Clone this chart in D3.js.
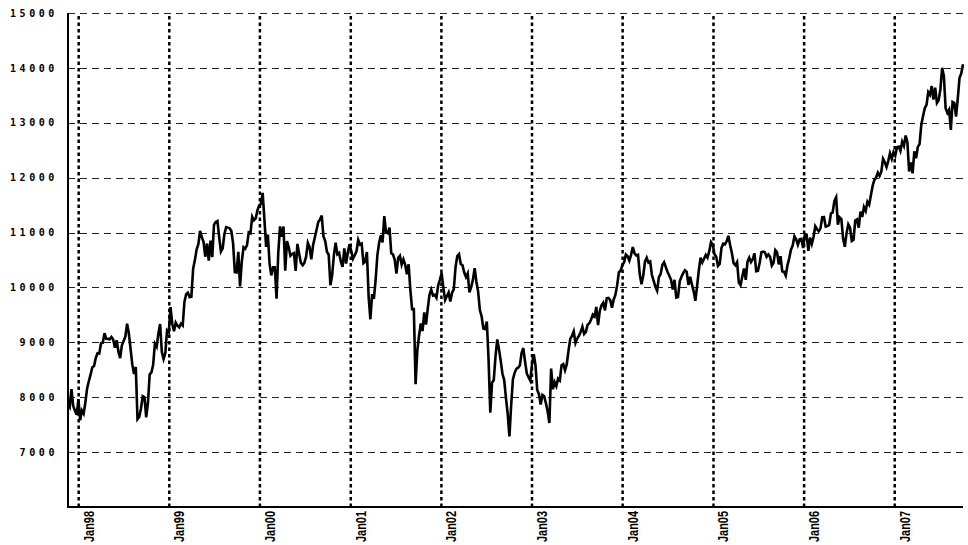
<!DOCTYPE html>
<html>
<head>
    <title>Weekly index 1997-2007</title>
    <script src="https://d3js.org/d3.v7.min.js"></script>
    <style>
        body { margin: 0; background: #fff; }
    </style>
</head>
<body>
    <svg width="968" height="545"></svg>
    <script>
        // First weekly close (Friday) and one value per week after it
        const startDate = new Date(1997, 10, 21);

        const values1997 = [7881, 7823, 8149, 7839, 7756, 7679];
        const values1998 = [
            7965, 7580, 7756, 7700, 7907,   8160, 8295, 8410, 8545,
            8570, 8718, 8803, 8796,         8983, 8994, 9167, 9064, 9063,
            9055, 9096, 9050, 8900,         9037, 8834, 8713, 8945,
            9025, 9105, 9338, 9165, 8883,   8598, 8425, 8552, 7600,
            7640, 7795, 8020, 8001,         7632, 7899, 8416, 8452, 8592,
            8975, 8919, 9159, 9334,         8821, 8695, 8804, 9217
        ];
        const values1999 = [
            9181, 9643, 9340, 9203, 9358,   9304, 9274, 9340, 9306,
            9736, 9876, 9903, 9822,         9832, 10339, 10493, 10689, 10789,
            11031, 10913, 10830, 10560,     10800, 10490, 10855, 10552,
            11139, 11193, 11209, 10911, 10655,  10714, 10973, 11100, 11090,
            11079, 11028, 10803, 10279,     10273, 10649, 10019, 10470, 10730,
            10704, 10769, 11003, 10988,     11286, 11224, 11257, 11405, 11497
        ];
        const values2000 = [
            11522, 11723, 11251, 10739,     10964, 10425, 10220, 10367,
            10367, 9796, 10630, 11113, 10922,   11111, 10306, 10844, 10734,
            10577, 10610, 10627, 10300,     10794, 10614, 10449, 10405, 10448,
            10560, 10812, 10733, 10511,     10767, 10908, 11046, 11192,
            11238, 11310, 10927, 10847, 10651,  10596, 10040, 10226, 10590,
            10817, 10603, 10630, 10470,     10373, 10712, 10434, 10636, 10787
        ];
        const values2001 = [
            10662, 10525, 10587, 10659,     10865, 10781, 10799, 10441,
            10466, 10644, 9823, 9420, 9879, 9791, 10127, 10579, 10810,
            10951, 10821, 11301, 11005,     10990, 11090, 10623, 10604, 10502,
            10253, 10539, 10577, 10417,     10512, 10416, 10240, 10423, 9950,
            9605, 9605, 8236, 8848,         9120, 9344, 9205, 9545,
            9324, 9608, 9867, 9960, 9852,   9865, 9812, 10036, 10137
        ];
        const values2002 = [
            10260, 9988, 9772, 9841,        9908, 9745, 9903, 9969,
            10368, 10573, 10608, 10428, 10404,  10271, 10191, 10257, 9910,
            10006, 10142, 10353, 10105, 9925,   9589, 9474, 9253, 9243,
            9380, 8684, 7720, 8264,         8313, 8745, 9053, 8873, 8663,
            8427, 8313, 7986, 7701,         7286, 7850, 8322, 8444,
            8518, 8538, 8579, 8804, 8896,   8646, 8433, 8364, 8303
        ];
        const values2003 = [
            8601, 8785, 8586, 8131, 8054,   7865, 8042, 8018, 7891,
            7740, 7530, 8522, 8145,         8277, 8203, 8338, 8306,
            8583, 8604, 8491, 8601, 8850,   9062, 9117, 9200, 8989,
            9070, 9119, 9188, 9284,         9153, 9191, 9321, 9348, 9416,
            9504, 9471, 9644, 9313,         9572, 9674, 9721, 9582, 9801,
            9809, 9768, 9629, 9782,         9862, 10042, 10278, 10306
        ];
        const values2004 = [
            10409, 10458, 10600, 10568, 10488,  10593, 10737, 10620, 10584,
            10595, 10240, 10060, 10213,     10470, 10540, 10452, 10472, 10226,
            10118, 10013, 9940, 10188,      10242, 10410, 10460, 10371,
            10282, 10214, 10140, 9963, 10140,   9815, 9826, 10110, 10196,
            10260, 10314, 10284, 10047,     10193, 10055, 9933, 9758, 10027,
            10314, 10540, 10456, 10522,     10592, 10543, 10661, 10828, 10783
        ];
        const values2005 = [
            10604, 10559, 10393, 10427,     10716, 10796, 10785, 10841,
            10940, 10774, 10629, 10442,     10404, 10462, 10087, 10040, 10193,
            10345, 10140, 10471, 10542,     10461, 10512, 10623, 10297,
            10303, 10449, 10640, 10651, 10641,  10558, 10600, 10559, 10397,
            10447, 10679, 10641, 10420, 10569,  10292, 10287, 10215, 10403,
            10531, 10687, 10766, 10932,     10878, 10778, 10876, 10884, 10718
        ];
        const values2006 = [
            10959, 10959, 10667, 10907,     10793, 10919, 11115, 11061,
            11022, 11076, 11279, 11280, 11109,  11120, 11137, 11347, 11367,
            11577, 11642, 11144, 11278,     11247, 10891, 10740, 10989, 11150,
            11091, 10846, 10868, 11219,     11240, 11088, 11381, 11284,
            11464, 11393, 11560, 11508, 11679,  11850, 11960, 12002, 12090,
            12032, 12108, 12342, 12280,     12194, 12307, 12445, 12343, 12463
        ];
        const values2007 = [
            12398, 12556, 12566, 12487,     12654, 12580, 12768, 12647,
            12114, 12277, 12080, 12481, 12354,  12560, 12612, 12962, 13120,
            13265, 13327, 13556, 13507,     13668, 13424, 13640, 13361, 13409,
            13612, 14000, 13851, 13266,     13181, 13239, 12870, 13379, 13358,
            13114, 13442, 13820, 13896,     14066
        ];

        const yTicks = [7000, 8000, 9000, 10000, 11000, 12000, 13000, 14000, 15000];
        const xTickLabels = ["Jan98", "Jan99", "Jan00", "Jan01", "Jan02",
                             "Jan03", "Jan04", "Jan05", "Jan06", "Jan07"];

        const weekly = [].concat(values1997, values1998, values1999, values2000,
            values2001, values2002, values2003, values2004, values2005,
            values2006, values2007);
        const data = weekly.map((v, i) => ({date: d3.timeDay.offset(startDate, 7 * i), value: v}));

        const plot = {left: 68, right: 963, top: 13, bottom: 507};
        const svg = d3.select("svg");

        const x = d3.scaleTime()
            .domain([startDate, new Date(2007, 9, 5)])
            .range([plot.left, plot.right]);
        const y = d3.scaleLinear()
            .domain([6000, 15000])
            .range([plot.bottom, plot.top]);

        const xTicks = xTickLabels.map((d, i) => new Date(1998 + i, 0, 1));

        // Horizontal dashed grid + value labels
        const yAxis = svg.append("g")
            .attr("transform", `translate(${plot.left},0)`)
            .call(d3.axisLeft(y)
                .tickValues(yTicks)
                .tickSize(-(plot.right - plot.left))
                .tickPadding(10)
                .tickFormat(d3.format("d")));
        yAxis.select(".domain").remove();
        yAxis.selectAll("line")
            .attr("stroke", "#222")
            .attr("stroke-dasharray", "7,5")
            .attr("shape-rendering", "crispEdges");
        yAxis.selectAll("text")
            .attr("font-family", "DejaVu Sans Mono")
            .attr("font-weight", "bold")
            .attr("font-size", 10)
            .attr("letter-spacing", "3.6px")
            .attr("fill", "#000");

        // Vertical dotted grid + year labels
        const xAxis = svg.append("g")
            .attr("transform", `translate(0,${plot.bottom})`)
            .call(d3.axisBottom(x)
                .tickValues(xTicks)
                .tickSize(-(plot.bottom - plot.top))
                .tickFormat((d, i) => xTickLabels[i]));
        xAxis.select(".domain").remove();
        xAxis.selectAll("line")
            .attr("stroke", "#000")
            .attr("stroke-width", 2.5)
            .attr("stroke-dasharray", "3.5,3");
        xAxis.selectAll("text")
            .attr("x", 0)
            .attr("y", 0)
            .attr("dy", null)
            .attr("text-anchor", "end")
            .attr("transform", "translate(15,4) rotate(-90)")
            .attr("font-family", "Liberation Sans")
            .attr("font-weight", "bold")
            .attr("font-size", 14)
            .attr("textLength", 31)
            .attr("lengthAdjust", "spacingAndGlyphs")
            .attr("fill", "#000");

        // Solid axis lines
        svg.append("line")
            .attr("x1", plot.left).attr("x2", plot.left)
            .attr("y1", plot.top).attr("y2", plot.bottom + 1)
            .attr("stroke", "#000").attr("stroke-width", 2);
        svg.append("line")
            .attr("x1", plot.left - 1).attr("x2", plot.right)
            .attr("y1", plot.bottom).attr("y2", plot.bottom)
            .attr("stroke", "#000").attr("stroke-width", 2);

        // The series
        const line = d3.line()
            .x(d => x(d.date))
            .y(d => y(d.value));
        svg.append("path")
            .datum(data)
            .attr("fill", "none")
            .attr("stroke", "#000")
            .attr("stroke-width", 2.6)
            .attr("stroke-linejoin", "miter")
            .attr("d", line);
    </script>
</body>
</html>
